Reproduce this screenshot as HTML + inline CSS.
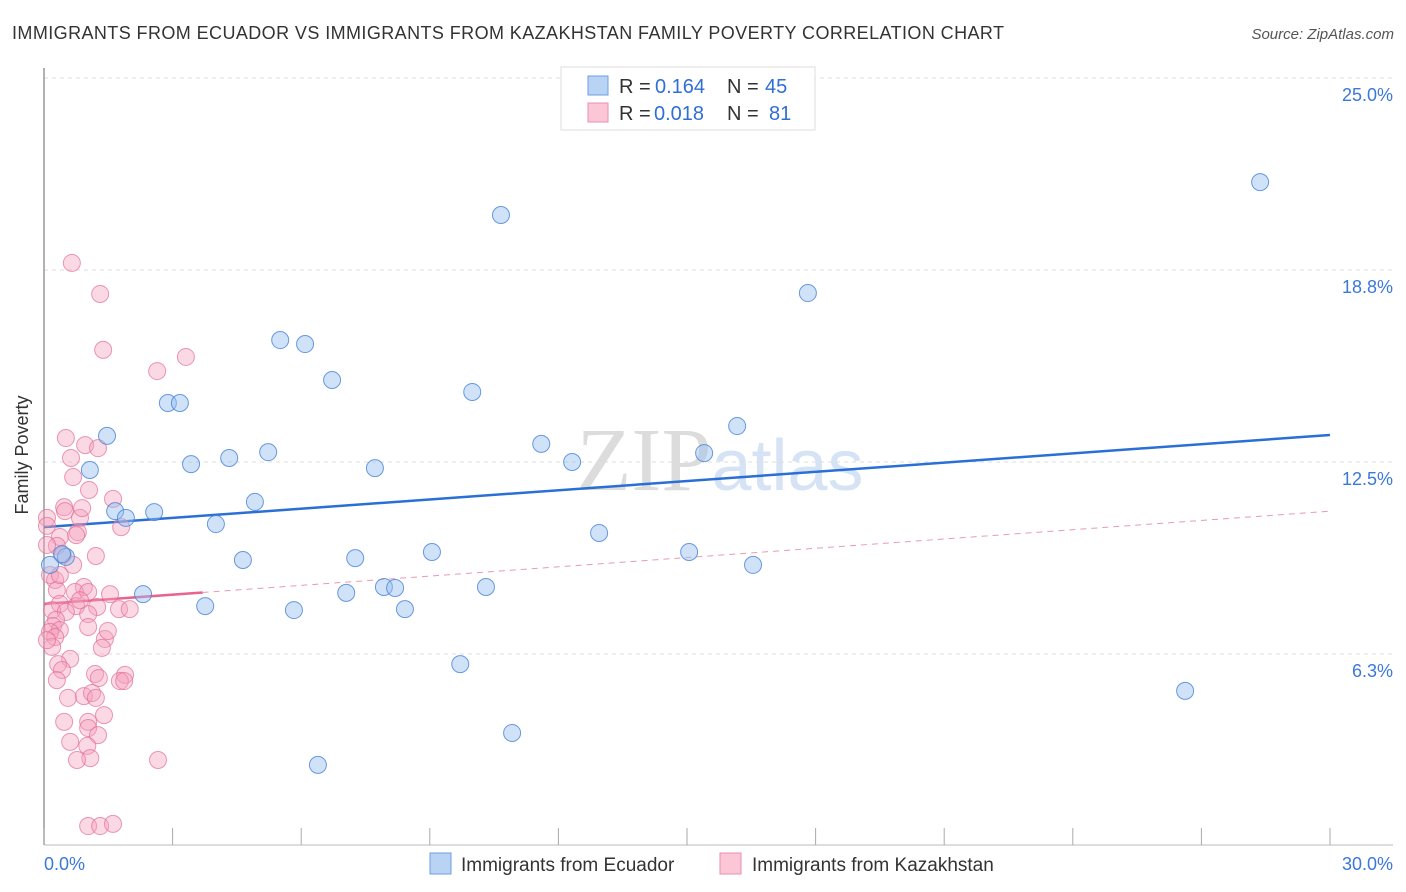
<!DOCTYPE html>
<html><head><meta charset="utf-8"><style>
body{margin:0;background:#fff;font-family:"Liberation Sans",sans-serif;}
svg{display:block}
</style></head><body>
<svg id="chart" width="1406" height="892">
<text x="12" y="39" font-size="18" fill="#333" textLength="992">IMMIGRANTS FROM ECUADOR VS IMMIGRANTS FROM KAZAKHSTAN FAMILY POVERTY CORRELATION CHART</text>
<text x="1394" y="39" font-size="15" fill="#555" font-style="italic" text-anchor="end">Source: ZipAtlas.com</text>
<text x="720" y="490" font-size="90" fill="#e6e6e6" text-anchor="middle" font-family="Liberation Serif,serif"><tspan fill="#dcdcdc">ZIP</tspan><tspan fill="#d5e3f5" font-family="Liberation Sans,sans-serif" font-size="72">atlas</tspan></text>
<g id="grid"></g>
<line x1="44" y1="68" x2="44" y2="845" stroke="#999" stroke-width="1.5"/>
<line x1="44" y1="845" x2="1393" y2="845" stroke="#bbb" stroke-width="1"/>
<g id="xticks"></g>
<text x="28" y="455" font-size="18" fill="#333" text-anchor="middle" transform="rotate(-90 28 455)">Family Poverty</text>
<g id="trends"></g>
<g id="pts"></g>
<g>
<rect x="561" y="67" width="254" height="63" fill="#fff" stroke="#ddd"/>
<rect x="588" y="76" width="20" height="19" fill="#b9d3f5" stroke="#6e9ee0"/>
<rect x="588" y="103" width="20" height="19" fill="#fbc7d7" stroke="#ea8fac"/>
<text x="619" y="93" font-size="20" fill="#333">R = </text><text x="655" y="93" font-size="20" fill="#2f6fd6">0.164</text>
<text x="727" y="93" font-size="20" fill="#333">N = </text><text x="765" y="93" font-size="20" fill="#2f6fd6">45</text>
<text x="619" y="120" font-size="20" fill="#333">R = </text><text x="654" y="120" font-size="20" fill="#2f6fd6">0.018</text>
<text x="727" y="120" font-size="20" fill="#333">N = </text><text x="769" y="120" font-size="20" fill="#2f6fd6">81</text>
</g>
<g>
<rect x="430" y="853" width="21" height="21" fill="#b9d3f5" stroke="#6e9ee0"/>
<text x="461" y="871" font-size="19" fill="#333">Immigrants from Ecuador</text>
<rect x="720" y="853" width="21" height="21" fill="#fbc7d7" stroke="#ea8fac"/>
<text x="752" y="871" font-size="19" fill="#333">Immigrants from Kazakhstan</text>
</g>
</svg>
<script>
const xTickLabels=["0.0%","30.0%"];
const yTicks=[6.25,12.5,18.75,25];
const yTickLabels=["6.3%","12.5%","18.8%","25.0%"];
const ecuadorX=[28.37,10.66,17.82,5.51,6.09,6.72,9.99,2.89,3.17,16.17,1.47,11.6,15.4,5.23,4.32,3.43,12.32,7.72,1.07,4.92,2.57,1.66,1.91,4.01,12.95,9.05,15.05,4.64,7.26,0.51,0.42,16.54,0.14,7.93,8.19,10.31,2.31,7.05,3.76,5.83,8.42,9.71,26.62,10.92,6.39];
const ecuadorY=[21.61,20.54,18.0,16.47,16.34,15.17,14.78,14.42,14.42,13.67,13.35,13.09,12.79,12.82,12.63,12.43,12.5,12.3,12.24,11.2,10.87,10.9,10.68,10.48,10.19,9.57,9.57,9.31,9.37,9.41,9.5,9.15,9.15,8.43,8.4,8.43,8.2,8.24,7.81,7.68,7.71,5.92,5.05,3.68,2.64];
const kazakhX=[0.65,1.31,1.38,3.31,2.64,0.51,0.96,1.26,0.63,0.68,1.05,1.61,0.47,0.49,0.84,0.07,0.07,1.8,0.79,0.37,0.75,0.3,0.44,0.68,0.14,0.26,0.93,0.3,0.72,1.03,1.54,0.37,0.75,1.24,1.75,2.0,0.19,0.51,1.03,0.28,0.21,0.37,0.14,0.26,1.42,1.03,1.35,0.19,0.61,0.33,0.42,1.19,1.89,1.77,1.28,0.3,0.56,0.93,1.12,1.21,1.4,1.03,1.03,1.26,0.61,1.01,1.08,0.77,2.66,1.03,1.31,1.61,1.49,0.07,0.84,0.37,0.47,1.87,1.21,0.07,0.89];
const kazakhY=[18.98,17.97,16.15,15.92,15.46,13.28,13.05,12.95,12.63,12.01,11.59,11.3,11.03,10.9,10.68,10.68,10.42,10.38,10.22,10.06,10.12,9.77,9.47,9.15,8.82,8.66,8.43,8.33,8.27,8.27,8.2,7.88,7.81,7.78,7.71,7.71,7.68,7.62,7.55,7.36,7.16,7.03,6.97,6.8,6.74,7.13,6.45,6.48,6.09,5.92,5.73,5.6,5.57,5.37,5.47,5.4,4.82,4.88,4.98,4.82,4.26,4.04,3.84,3.61,3.39,3.26,2.86,2.8,2.8,0.65,0.65,0.72,7.0,9.8,8.0,8.82,4.04,5.37,9.44,6.7,11.0];
const ecuadorTrend=[10.38,13.38];
const kazakhTrend=[7.88,10.9];
const kazakhSolidEnd=3.7;
const X0=44,X1=1330,Y0=846,PPY=30.72;
const sx=v=>X0+(v/30)*(X1-X0);
const sy=v=>Y0-v*PPY;
const NS="http://www.w3.org/2000/svg";
function mk(tag,attrs,parent){const e=document.createElementNS(NS,tag);for(const k in attrs)e.setAttribute(k,attrs[k]);document.getElementById(parent).appendChild(e);return e;}
yTicks.forEach((t,i)=>{
  const g=mk('line',{x1:44,x2:1393,y1:sy(t),y2:sy(t),stroke:'#ddd','stroke-dasharray':'4,4'},'grid');
  
  
  const l=mk('text',{x:1393,y:sy(t)+23,'font-size':18,fill:'#3b78d8','text-anchor':'end'},'grid');
  l.textContent=yTickLabels[i];
  
  
});
for(let i=0;i<=10;i++){
  const x=sx(i*3);
  const t=mk('line',{x1:x,x2:x,y1:828,y2:845,stroke:'#aaa'},'xticks');
  
  
}
[[0,'start',44],[1,'end',1393]].forEach(([i,a,x])=>{
  const l=mk('text',{x:x,y:870,'font-size':18,fill:'#3b78d8','text-anchor':a},'xticks');
  l.textContent=xTickLabels[i];
  
  
});
const bl=mk('line',{x1:sx(0),y1:sy(ecuadorTrend[0]),x2:sx(30),y2:sy(ecuadorTrend[1]),stroke:'#2a6fd4','stroke-width':2.5},'trends');


const kAt=v=>kazakhTrend[0]+(kazakhTrend[1]-kazakhTrend[0])*v/30;
const pd=mk('line',{x1:sx(kazakhSolidEnd),y1:sy(kAt(kazakhSolidEnd)),x2:sx(30),y2:sy(kazakhTrend[1]),stroke:'#e89ab2','stroke-width':1,'stroke-dasharray':'6,5'},'trends');


const ps=mk('line',{x1:sx(0),y1:sy(kazakhTrend[0]),x2:sx(kazakhSolidEnd),y2:sy(kAt(kazakhSolidEnd)),stroke:'#e8638d','stroke-width':2.5},'trends');


kazakhX.forEach((v,i)=>{
  const c=mk('circle',{cx:sx(v),cy:sy(kazakhY[i]),r:8.5,fill:'rgba(245,160,188,0.4)',stroke:'rgba(226,110,148,0.7)','stroke-width':1},'pts');
  
  
});
ecuadorX.forEach((v,i)=>{
  const c=mk('circle',{cx:sx(v),cy:sy(ecuadorY[i]),r:8.5,fill:'rgba(150,190,240,0.45)',stroke:'rgba(70,130,215,0.8)','stroke-width':1},'pts');
  
  
});
</script>
</body></html>
